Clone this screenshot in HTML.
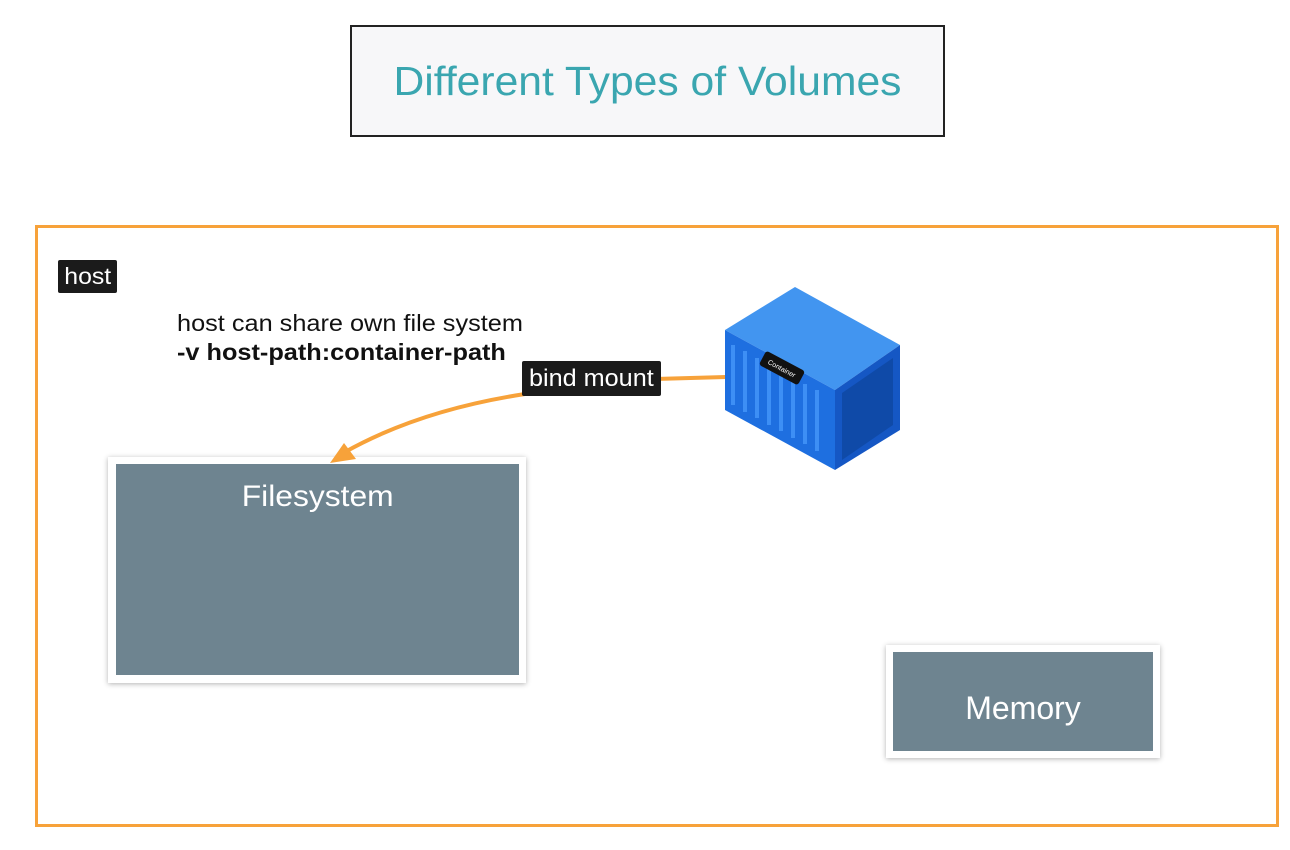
<!DOCTYPE html>
<html><head><meta charset="utf-8"><style>
body{margin:0;width:1290px;height:850px;background:#fff;position:relative;overflow:hidden;font-family:"Liberation Sans",Arial,sans-serif}
.abs{position:absolute}
.lbl{background:#1b1b1b;color:#fff;border-radius:2px;white-space:nowrap;text-align:center}
</style></head><body>
<div class="abs" style="left:350px;top:25px;width:591px;height:108px;border:2px solid #222;background:#f7f7f9"></div>
<div class="abs" style="left:350px;top:58px;width:595px;text-align:center;color:#3aa6b0;font-size:41px;transform:scaleX(1.04)">Different Types of Volumes</div>
<div class="abs" style="left:35px;top:225px;width:1238px;height:596px;border:3px solid #f7a23a"></div>
<div class="abs lbl" style="left:58px;top:260px;width:59px;height:33px;font-size:23px;line-height:33px"><span style="display:inline-block;transform:scaleX(1.08)">host</span></div>
<div class="abs" style="left:177px;top:309px;font-size:23px;color:#111;line-height:29px;transform:scaleX(1.1);transform-origin:0 0">host can share own file system<br><b>-v host-path:container-path</b></div>
<div class="abs" style="left:108px;top:457px;width:418px;height:226px;background:#fff;box-shadow:0 1px 5px rgba(0,0,0,.3)"></div>
<div class="abs" style="left:116px;top:464px;width:403px;height:211px;background:#6e8490;color:#fff;font-size:30px;text-align:center;padding-top:16px;box-sizing:border-box"><span style="display:inline-block;transform:scaleX(1.06)">Filesystem</span></div>
<div class="abs" style="left:886px;top:645px;width:274px;height:113px;background:#fff;box-shadow:0 1px 5px rgba(0,0,0,.3)"></div>
<div class="abs" style="left:893px;top:652px;width:260px;height:99px;background:#6e8490;color:#fff;font-size:32px;text-align:center;line-height:112px">Memory</div>
<svg class="abs" style="left:0;top:0" width="1290" height="850">
<path d="M726 377 L655 379" stroke="#f7a23a" stroke-width="4" fill="none"/>
<path d="M525 394 Q420 410 345 452" stroke="#f7a23a" stroke-width="4" fill="none"/>
<polygon points="330,463 344,443 356,459" fill="#f7a23a"/>
<polygon points="725,330 795,287 900,345 835,390" fill="#4295f0"/>
<polygon points="725,330 835,390 835,470 725,410" fill="#1e6fe0"/>
<polygon points="835,390 900,345 900,430 835,470" fill="#1557c4"/>
<polygon points="842,393 893,358 893,425 842,460" fill="#0f4aa8"/>
<g stroke="#3d8ff5" stroke-width="4">
<line x1="733" y1="345" x2="733" y2="405"/><line x1="745" y1="351" x2="745" y2="412"/><line x1="757" y1="358" x2="757" y2="418"/><line x1="769" y1="364" x2="769" y2="425"/><line x1="781" y1="371" x2="781" y2="431"/><line x1="793" y1="377" x2="793" y2="438"/><line x1="805" y1="384" x2="805" y2="444"/><line x1="817" y1="390" x2="817" y2="451"/>
</g>
<g transform="translate(782,368) rotate(28)"><rect x="-22" y="-8" width="44" height="16" rx="3" fill="#111"/><text x="0" y="3" font-size="7" fill="#fff" text-anchor="middle" font-family="Liberation Sans">Container</text></g>
</svg>
<div class="abs lbl" style="left:522px;top:361px;width:139px;height:35px;font-size:24px;line-height:35px"><span style="display:inline-block;transform:scaleX(1.05)">bind mount</span></div>
</body></html>
